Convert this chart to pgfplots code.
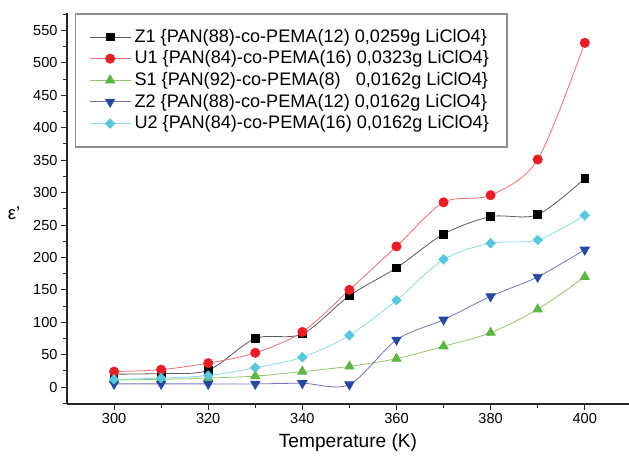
\documentclass[border=0pt]{standalone}
\usepackage{pgfplots}
\pgfplotsset{compat=1.18}
\usepackage{fontspec}
\setmainfont{Liberation Sans}
\definecolor{zonemark}{RGB}{0,0,0}
\definecolor{zoneline}{RGB}{90,90,90}
\definecolor{uonemark}{RGB}{232,30,38}
\definecolor{uoneline}{RGB}{240,110,110}
\definecolor{sonemark}{RGB}{95,180,70}
\definecolor{soneline}{RGB}{140,200,110}
\definecolor{ztwomark}{RGB}{40,72,160}
\definecolor{ztwoline}{RGB}{115,115,185}
\definecolor{utwomark}{RGB}{90,198,220}
\definecolor{utwoline}{RGB}{140,215,232}
\begin{document}
\begin{tikzpicture}
\begin{axis}[name=ax, scale only axis, width=562bp, height=391bp,
  xmin=290, xmax=409.4, ymin=-26, ymax=577,
  axis lines*=left,
  axis line style={line width=1.2bp, draw=black!85},
  tick align=outside, major tick length=6bp, minor tick length=3.5bp,
  tick style={black!85, line width=1bp},
  xtick={300,320,...,400}, minor xtick={310,330,...,390},
  ytick={0,50,...,550}, minor ytick={-25,25,...,575},
  /pgf/number format/assume math mode=true,
  tick label style={font=\fontsize{14.6}{16}\selectfont},
  xlabel={Temperature (K)},
  xlabel style={font=\fontsize{19.2}{21}\selectfont, anchor=base, at={(axis description cs:0.5,-0.1125)}},
  ylabel={ε'},
  ylabel style={font=\fontsize{18.5}{20}\selectfont, rotate=-90, anchor=center, at={(axis description cs:-0.0943,0.4885)}},
  legend style={at={(axis description cs:0.0142,1)}, anchor=north west, draw=black!45, line width=1.5bp,
    inner xsep=14bp, inner ysep=12.5bp, font=\fontsize{18.2}{21.6}\selectfont,
    nodes={text height=14bp, text depth=3.6bp, inner ysep=2bp, inner xsep=4bp}, row sep=0pt},
  legend cell align=left,
  legend image code/.code={\draw[mark repeat=2,mark phase=2,#1] plot coordinates {(0bp,0bp)(20bp,0bp)(40bp,0bp)};},
]
\addplot[smooth, color=zoneline, line width=0.8bp, mark=square*, mark size=3.8bp, mark options={fill=zonemark, draw=zonemark}]
 coordinates {(300,20)(310,21)(320,26)(330,75)(340,82)(350,141)(360,184)(370,236)(380,263)(390,266)(400,322)};
\addlegendentry{Z1 \{PAN(88)-co-PEMA(12) 0,0259g LiClO4\}}
\addplot[smooth, color=uoneline, line width=0.8bp, mark=*, mark size=4.6bp, mark options={fill=uonemark, draw=uonemark}]
 coordinates {(300,24)(310,27)(320,37)(330,53)(340,85)(350,150)(360,217)(370,285)(380,296)(390,351)(400,531)};
\addlegendentry{U1 \{PAN(84)-co-PEMA(16) 0,0323g LiClO4\}}
\addplot[smooth, color=soneline, line width=0.8bp, mark=triangle*, mark size=5.3bp, mark options={fill=sonemark, draw=sonemark}]
 coordinates {(300,11)(310,12)(320,14)(330,17)(340,24)(350,32)(360,44)(370,63)(380,84)(390,120)(400,170)};
\addlegendentry{S1 \{PAN(92)-co-PEMA(8)\hphantom{1} 0,0162g LiClO4\}}
\addplot[smooth, color=ztwoline, line width=0.8bp, mark=triangle*, mark size=5.3bp, mark options={fill=ztwomark, draw=ztwomark, rotate=180}]
 coordinates {(300,5)(310,5)(320,5)(330,5)(340,6)(350,4)(360,73)(370,104)(380,140)(390,170)(400,212)};
\addlegendentry{Z2 \{PAN(88)-co-PEMA(12) 0,0162g LiClO4\}}
\addplot[smooth, color=utwoline, line width=0.8bp, mark=square*, mark size=3.3bp, mark options={fill=utwomark, draw=utwomark, rotate=45}]
 coordinates {(300,12)(310,14)(320,18)(330,30)(340,46)(350,80)(360,134)(370,197)(380,222)(390,227)(400,265)};
\addlegendentry{U2 \{PAN(84)-co-PEMA(16) 0,0162g LiClO4\}}
\end{axis}
\pgfresetboundingbox
\path[use as bounding box] (ax.south west) ++(-67bp,-53bp) rectangle ++(629bp,457bp);
\end{tikzpicture}
\end{document}
